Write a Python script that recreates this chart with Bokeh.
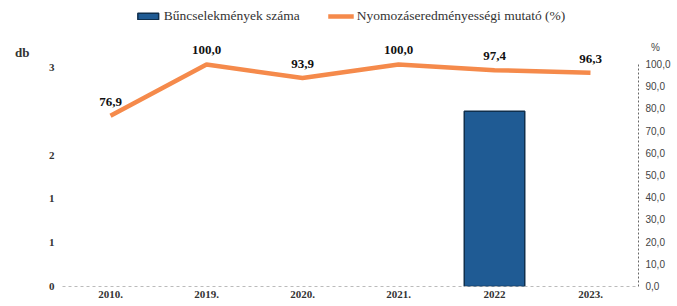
from bokeh.plotting import figure
from bokeh.models import (Range1d, LinearAxis, FixedTicker, Legend, LegendItem,
                          ColumnDataSource)
from bokeh.core.properties import value
from bokeh.embed import file_html
from bokeh.resources import INLINE

years = ["2010.", "2019.", "2020.", "2021.", "2022", "2023."]
crimes = [0, 0, 0, 0, 2, 0]
rate = [76.9, 100.0, 93.9, 100.0, 97.4, 96.3]
rate_labels = ["76,9", "100,0", "93,9", "100,0", "97,4", "96,3"]
left_ticks = [0, 0.5, 1, 1.5, 2, 2.5]
left_tick_labels = ["0", "1", "1", "2", "", "3"]
right_ticks = [0, 10, 20, 30, 40, 50, 60, 70, 80, 90, 100]
right_tick_labels = ["0,0", "10,0", "20,0", "30,0", "40,0", "50,0", "60,0",
                     "70,0", "80,0", "90,0", "100,0"]
left_title = "db"
right_title = "%"

SERIF = "Liberation Serif"
LEFT_TOP = 3.24
PCT_TOP = 127.9

p = figure(x_range=years, y_range=Range1d(0, LEFT_TOP), width=677, height=306,
           output_backend="svg", toolbar_location=None,
           min_border_left=62, min_border_right=39, min_border_top=2,
           min_border_bottom=20)
p.outline_line_color = None
p.xgrid.grid_line_color = None
p.ygrid.grid_line_color = None
p.background_fill_color = "white"

p.extra_y_ranges = {"pct": Range1d(0, PCT_TOP)}

# left axis
p.yaxis.ticker = FixedTicker(ticks=left_ticks)
p.yaxis.major_label_overrides = {t: l for t, l in zip(left_ticks, left_tick_labels)}
p.yaxis.axis_line_color = None
p.yaxis.major_tick_line_color = None
p.yaxis.major_tick_out = 0
p.yaxis.major_tick_in = 0
p.yaxis.minor_tick_line_color = None
p.yaxis.major_label_standoff = 8
p.yaxis.major_label_text_font = SERIF
p.yaxis.major_label_text_font_style = "bold"
p.yaxis.major_label_text_font_size = "11px"
p.yaxis.major_label_text_color = "#333333"

# outer left axis carrying the unit title "db" near the top
db_pos = LEFT_TOP * (286 - 52) / 284
ta = LinearAxis(ticker=FixedTicker(ticks=[db_pos]))
ta.major_label_overrides = {db_pos: left_title}
ta.axis_line_color = None
ta.major_tick_line_color = None
ta.major_tick_out = 0
ta.major_tick_in = 0
ta.minor_tick_line_color = None
ta.major_label_standoff = 16
ta.major_label_text_font = SERIF
ta.major_label_text_font_style = "bold"
ta.major_label_text_font_size = "13px"
ta.major_label_text_color = "#333333"
p.add_layout(ta, "left")

# right axis (with the "%" title as an extra tick label above 100)
pct_pos = PCT_TOP * (286 - 47) / 284
r_ticks = right_ticks + [pct_pos]
r_labels = right_tick_labels + ["\u00a0\u00a0" + right_title]
ra = LinearAxis(y_range_name="pct", ticker=FixedTicker(ticks=r_ticks),
                bounds=(0, 100))
ra.major_label_overrides = {t: l for t, l in zip(r_ticks, r_labels)}
ra.axis_line_color = "#666666"
ra.axis_line_dash = "2 2"
ra.major_tick_line_color = None
ra.major_tick_out = 0
ra.major_tick_in = 0
ra.minor_tick_line_color = None
ra.major_label_standoff = 7
ra.major_label_text_font = "Liberation Sans"
ra.major_label_text_font_size = "10px"
ra.major_label_text_color = "#444444"
p.add_layout(ra, "right")

# x axis
p.xaxis.axis_line_color = "#bbbbbb"
p.xaxis.axis_line_dash = "3 3"
p.xaxis.major_tick_line_color = None
p.xaxis.major_tick_out = 0
p.xaxis.major_tick_in = 0
p.xaxis.minor_tick_line_color = None
p.xaxis.major_label_standoff = 4
p.xaxis.major_label_text_font = SERIF
p.xaxis.major_label_text_font_style = "bold"
p.xaxis.major_label_text_font_size = "11px"
p.xaxis.major_label_text_color = "#333333"

# bars (only non-zero drawn)
bx = [y for y, c in zip(years, crimes) if c > 0]
bt = [c for c in crimes if c > 0]
bars = p.vbar(x=bx, top=bt, width=0.63, fill_color="#1f5b94",
              line_color="#0f2f4d", line_width=1.5)

# line
src = ColumnDataSource(dict(x=years, y=rate, t=rate_labels))
ln = p.line(x="x", y="y", source=src, y_range_name="pct",
            line_color="#f58a4b", line_width=4.5)
p.text(x="x", y="y", text="t", source=src, y_range_name="pct",
       text_align="center", text_baseline="middle", y_offset=-14,
       text_font=value(SERIF), text_font_style="bold",
       text_font_size="13px", text_color="#111111")

legend = Legend(items=[LegendItem(label="Bűncselekmények száma", renderers=[bars]),
                       LegendItem(label="Nyomozáseredményességi mutató (%)", renderers=[ln])],
                orientation="horizontal", location="top_center",
                label_text_font=SERIF, label_text_font_size="13.5px",
                label_text_color="#333333", border_line_color=None,
                background_fill_alpha=0, glyph_width=26, glyph_height=8,
                padding=2, margin=6, spacing=28, label_standoff=3)
p.add_layout(legend)

open("out.html", "w").write(file_html(p, INLINE))
